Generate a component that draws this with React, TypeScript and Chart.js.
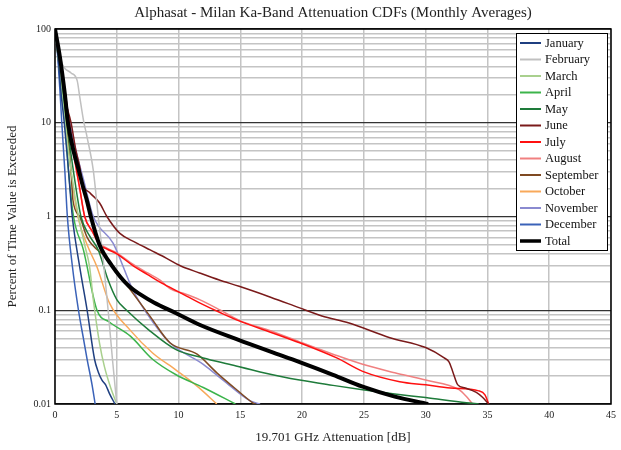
import { useEffect, useRef } from "react";
import { Chart, registerables } from "chart.js";

Chart.register(...registerables);

const TITLE = "Alphasat - Milan Ka-Band Attenuation CDFs (Monthly Averages)";
const X_TITLE = "19.701 GHz Attenuation [dB]";
const Y_TITLE = "Percent of Time Value is Exceeded";

const xTicks = [0, 5, 10, 15, 20, 25, 30, 35, 40, 45];
const yDecades = [0.01, 0.1, 1, 10, 100];
const yDecadeLabels = ["0.01", "0.1", "1", "10", "100"];

// attenuation (dB) / percent exceeded pairs for each series
const janDb = [0, 0.25, 0.5, 0.75, 1.1, 1.4, 2.0, 2.6, 3.2, 3.5, 3.8, 4.1, 4.4, 4.85];
const janPct = [100, 50, 20, 10, 3, 1, 0.29, 0.1, 0.03, 0.022, 0.018, 0.016, 0.013, 0.01];

const febDb = [0, 0.3, 0.6, 0.8, 1.3, 1.8, 2.0, 2.3, 2.6, 3.1, 3.5, 3.9, 4.3, 4.65, 5.0];
const febPct = [100, 60, 42, 38, 34, 28, 19, 10.7, 7, 3.1, 1.0, 0.35, 0.1, 0.03, 0.01];

const marDb = [0, 0.3, 0.6, 0.9, 1.4, 1.9, 2.4, 2.8, 3.1, 3.6, 4.0, 4.5, 5.0];
const marPct = [100, 45, 18, 8, 2.5, 1, 0.5, 0.29, 0.13, 0.045, 0.025, 0.015, 0.01];

const aprDb = [0, 0.3, 0.6, 0.85, 1.1, 1.5, 2.3, 3.4, 4.4, 6.1, 7.9, 9.8, 12.0, 14.6];
const aprPct = [100, 45, 18, 9, 3, 1, 0.44, 0.1, 0.075, 0.053, 0.03, 0.0205, 0.015, 0.01];

const mayDb = [0, 0.3, 0.65, 1.0, 1.5, 2.1, 2.8, 3.5, 4.3, 5.0, 5.8, 7.7, 9.8, 12.0, 14.1, 16.6, 19.8, 22.5, 24.9, 27.5, 30.0, 33.3, 34.3];
const mayPct = [100, 48, 20, 9, 3, 1, 0.62, 0.44, 0.21, 0.13, 0.1, 0.06, 0.038, 0.031, 0.0265, 0.022, 0.018, 0.0158, 0.0142, 0.0128, 0.0117, 0.0103, 0.01];

const junDb = [0, 0.4, 0.8, 1.3, 1.7, 2.0, 2.2, 2.8, 3.6, 4.2, 5.25, 6.5, 7.7, 9.0, 10.1, 11.7, 13.3, 14.9, 17.5, 19.8, 21.6, 23.8, 27.1, 30.0, 31.5, 31.9, 32.2, 32.6, 33.2, 34.1, 34.6, 35.1];
const junPct = [100, 40, 18, 10, 5, 3.4, 2.3, 1.8, 1.4, 1.0, 0.66, 0.53, 0.44, 0.36, 0.3, 0.25, 0.21, 0.18, 0.137, 0.106, 0.087, 0.073, 0.051, 0.04, 0.031, 0.028, 0.022, 0.016, 0.0148, 0.0133, 0.0118, 0.01];

const julDb = [0, 0.4, 0.8, 1.15, 1.6, 2.0, 2.4, 3.0, 3.6, 4.2, 5.0, 6.3, 7.5, 8.5, 9.5, 10.5, 11.7, 13.4, 14.9, 17.5, 19.8, 22.8, 24.9, 27.9, 30.0, 32.0, 34.3, 34.8, 35.1];
const julPct = [100, 50, 22, 10, 4, 2, 1.0, 0.7, 0.5, 0.45, 0.4, 0.3, 0.24, 0.2, 0.17, 0.145, 0.12, 0.094, 0.077, 0.058, 0.045, 0.031, 0.0223, 0.0173, 0.016, 0.0148, 0.0138, 0.0125, 0.01];

const augDb = [0, 0.4, 0.8, 1.1, 1.6, 2.0, 2.4, 3.0, 3.6, 4.2, 5.0, 6.3, 7.5, 8.5, 9.3, 10.5, 11.7, 13.4, 14.9, 17.5, 19.8, 22.5, 24.9, 27.5, 30.0, 32.7, 33.3, 33.8];
const augPct = [100, 50, 22, 10, 4, 2, 1.0, 0.7, 0.52, 0.46, 0.41, 0.31, 0.25, 0.21, 0.17, 0.15, 0.13, 0.1, 0.078, 0.06, 0.046, 0.034, 0.0265, 0.0215, 0.018, 0.0142, 0.012, 0.01];

const sepDb = [0, 0.3, 0.65, 0.95, 1.3, 1.45, 2.0, 2.6, 4.2, 6.1, 7.7, 9.3, 11.5, 13.1, 14.7, 16.0, 16.5];
const sepPct = [100, 45, 20, 10, 3, 1.5, 1.0, 0.6, 0.36, 0.165, 0.086, 0.045, 0.034, 0.0215, 0.0142, 0.0103, 0.0095];

const octDb = [0, 0.3, 0.65, 0.95, 1.3, 1.85, 2.6, 3.4, 4.4, 6.1, 7.9, 9.8, 11.5, 13.1];
const octPct = [100, 45, 20, 9, 3, 1, 0.5, 0.29, 0.12, 0.061, 0.035, 0.023, 0.0155, 0.01];

const novDb = [0, 0.4, 0.8, 1.2, 1.7, 2.3, 3.1, 4.7, 6.3, 7.4, 9.3, 12.0, 13.6, 15.8, 16.6];
const novPct = [100, 50, 22, 10, 5, 2.5, 1.0, 0.52, 0.165, 0.094, 0.045, 0.0265, 0.018, 0.0108, 0.01];

const decDb = [0, 0.2, 0.4, 0.55, 0.8, 1.0, 1.4, 1.9, 2.3, 2.6, 3.0, 3.25];
const decPct = [100, 55, 22, 10, 3, 1, 0.3, 0.1, 0.05, 0.03, 0.016, 0.01];

const totDb = [0, 0.4, 0.8, 1.05, 1.5, 1.9, 2.3, 2.6, 2.9, 3.6, 4.6, 6.0, 7.0, 8.0, 9.8, 11.7, 14.9, 17.5, 19.8, 22.5, 24.9, 27.5, 30.2];
const totPct = [100, 50, 20, 10, 5, 3.2, 2, 1.45, 1, 0.5, 0.3, 0.18, 0.145, 0.121, 0.093, 0.07, 0.048, 0.036, 0.028, 0.0205, 0.0153, 0.012, 0.01];

const seriesNames = ["January", "February", "March", "April", "May", "June", "July", "August", "September", "October", "November", "December", "Total"];
const seriesDb = [janDb, febDb, marDb, aprDb, mayDb, junDb, julDb, augDb, sepDb, octDb, novDb, decDb, totDb];
const seriesPct = [janPct, febPct, marPct, aprPct, mayPct, junPct, julPct, augPct, sepPct, octPct, novPct, decPct, totPct];
const seriesColors = ["#1f3f80", "#c0c0c0", "#a9d08e", "#3cb44b", "#1e7b3a", "#7a1a1a", "#ff1010", "#f08080", "#7f4a22", "#f8a95a", "#8a8ad0", "#3a62b8", "#000000"];
const seriesWidths = [1.5, 1.5, 1.5, 1.5, 1.5, 1.5, 1.5, 1.5, 1.5, 1.5, 1.5, 1.5, 4];

const FONT = "'Liberation Serif', 'Times New Roman', serif";

const overlayPlugin = {
  id: "overlay",
  beforeDatasetsDraw(chart: any) {
    const { ctx, chartArea: a } = chart;
    ctx.save();
    ctx.strokeStyle = "#000";
    ctx.lineWidth = 1.5;
    ctx.strokeRect(a.left, a.top, a.right - a.left, a.bottom - a.top);
    ctx.restore();
  },
  afterDraw(chart: any) {
    const { ctx, chartArea: a } = chart;
    ctx.save();
    const cx = (a.left + a.right) / 2;
    ctx.fillStyle = "#222";
    ctx.textAlign = "center";
    ctx.textBaseline = "middle";
    ctx.font = `15px ${FONT}`;
    ctx.fillText(TITLE, cx, 13);
    ctx.font = `13px ${FONT}`;
    ctx.fillText(X_TITLE, cx, 438);
    ctx.save();
    ctx.translate(13, (a.top + a.bottom) / 2);
    ctx.rotate(-Math.PI / 2);
    ctx.fillText(Y_TITLE, 0, 0);
    ctx.restore();

    // legend
    const lx = 516.5, ly = 33.5, lw = 91, lh = 217;
    ctx.fillStyle = "#fff";
    ctx.fillRect(lx, ly, lw, lh);
    ctx.strokeStyle = "#000";
    ctx.lineWidth = 1;
    ctx.strokeRect(lx, ly, lw, lh);
    ctx.font = `12.5px ${FONT}`;
    ctx.textAlign = "left";
    seriesNames.forEach((name, i) => {
      const y = 43 + i * 16.5;
      ctx.strokeStyle = seriesColors[i];
      ctx.lineWidth = seriesWidths[i] === 4 ? 3.5 : 2;
      ctx.beginPath();
      ctx.moveTo(520, y);
      ctx.lineTo(541, y);
      ctx.stroke();
      ctx.fillStyle = "#111";
      ctx.fillText(name, 545, y + 0.5);
    });
    ctx.restore();
  },
};

export default function App() {
  const ref = useRef<HTMLCanvasElement | null>(null);
  useEffect(() => {
    if (!ref.current) return;
    const datasets = seriesNames.map((name, i) => ({
      label: name,
      data: seriesDb[i].map((x, j) => ({ x, y: seriesPct[i][j] })),
      borderColor: seriesColors[i],
      backgroundColor: seriesColors[i],
      borderWidth: seriesWidths[i],
      pointRadius: 0,
      fill: false,
      cubicInterpolationMode: "monotone" as const,
      order: name === "Total" ? 0 : 1,
    }));
    const isDecade = (v: number) => yDecades.some((d) => Math.abs(v - d) < d * 1e-6);
    const chart = new Chart(ref.current, {
      type: "line",
      data: { datasets },
      plugins: [overlayPlugin],
      options: {
        animation: false,
        responsive: false,
        layout: { padding: { top: 29, right: 9, left: 0, bottom: 0 } },
        plugins: { legend: { display: false }, title: { display: false }, tooltip: { enabled: false } },
        scales: {
          x: {
            type: "linear",
            min: 0,
            max: 45,
            afterFit: (s: any) => { s.height = 46; },
            afterBuildTicks: (s: any) => { s.ticks = xTicks.map((v) => ({ value: v })); },
            border: { display: false },
            grid: { color: "#c4c4c4", lineWidth: 1.5, drawTicks: false },
            ticks: {
              autoSkip: false,
              maxRotation: 0,
              padding: 5,
              color: "#222",
              font: { family: FONT, size: 10 },
              callback: (v: any) => String(v),
            },
          },
          y: {
            type: "logarithmic",
            min: 0.01,
            max: 100,
            afterFit: (s: any) => { s.width = 55; },
            afterBuildTicks: (s: any) => {
              const t: any[] = [];
              for (let e = -2; e < 2; e++) {
                for (let m = 1; m <= 9; m++) t.push({ value: Number((m * Math.pow(10, e)).toPrecision(6)) });
              }
              t.push({ value: 100 });
              s.ticks = t;
            },
            border: { display: false },
            grid: {
              drawTicks: false,
              color: (c: any) => (isDecade(c.tick.value) ? "#333333" : "#c4c4c4"),
              lineWidth: (c: any) => (isDecade(c.tick.value) ? 1.3 : 1.5),
            },
            ticks: {
              autoSkip: false,
              padding: 4,
              color: "#222",
              font: { family: FONT, size: 10 },
              callback: (v: any) => {
                const idx = yDecades.findIndex((d) => Math.abs(Number(v) - d) < d * 1e-6);
                return idx >= 0 ? yDecadeLabels[idx] : "";
              },
            },
          },
        },
      },
    });
    return () => chart.destroy();
  }, []);
  return (
    <div style={{ position: "fixed", left: 0, top: 0, width: 621, height: 450, background: "#fff" }}>
      <canvas ref={ref} width={621} height={450} style={{ width: 621, height: 450 }} />
    </div>
  );
}
